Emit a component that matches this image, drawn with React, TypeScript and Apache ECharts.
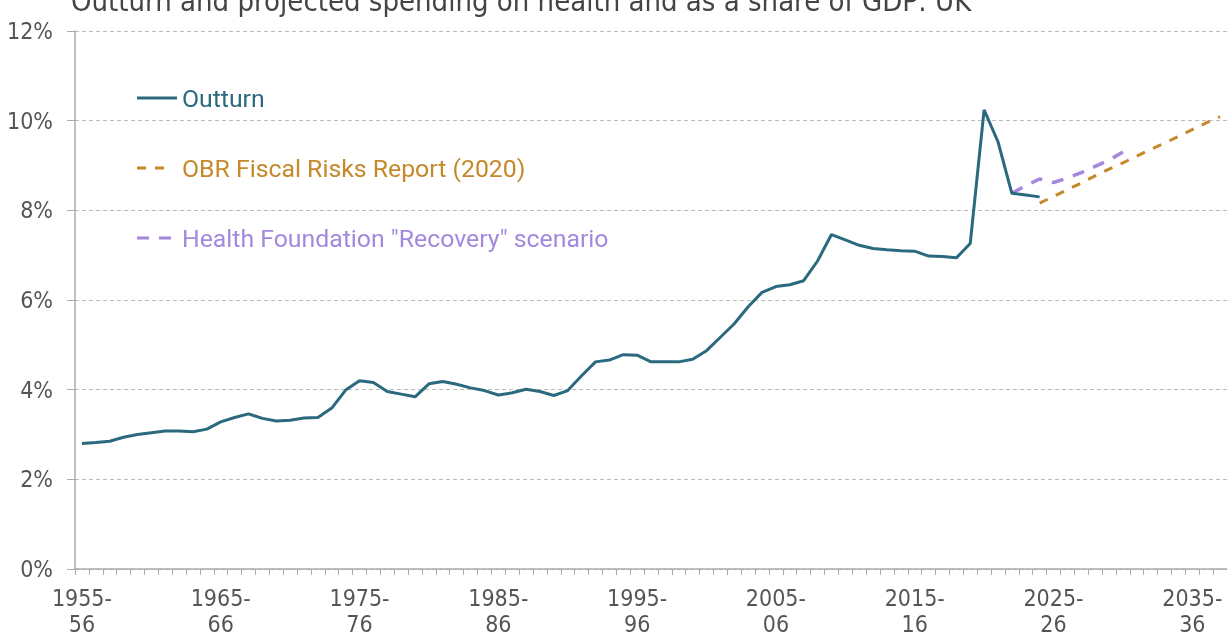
import React, { useEffect, useRef } from "react";
import * as echarts from "echarts";

const startYear = 1955;
const endYear = 2037;
const categories: string[] = [];
for (let y = startYear; y <= endYear; y++) {
  categories.push(`${y}-\n${String((y + 1) % 100).padStart(2, "0")}`);
}

const outturn = [
  2.80, 2.82, 2.85, 2.94, 3.00, 3.04, 3.08, 3.08, 3.06, 3.12,
  3.28, 3.38, 3.46, 3.36, 3.30, 3.32, 3.37, 3.38, 3.59, 3.99,
  4.20, 4.16, 3.96, 3.90, 3.84, 4.13, 4.18, 4.12, 4.04, 3.98,
  3.88, 3.93, 4.01, 3.96, 3.87, 3.98, 4.31, 4.62, 4.66, 4.78,
  4.77, 4.62, 4.62, 4.62, 4.68, 4.87, 5.17, 5.47, 5.85, 6.17,
  6.30, 6.34, 6.43, 6.87, 7.46, 7.34, 7.22, 7.15, 7.12, 7.10,
  7.09, 6.98, 6.97, 6.94, 7.26, 10.24, 9.53, 8.38, 8.34, 8.30,
];
const obrStart = 2024;
const obr = [8.16, 8.31, 8.46, 8.61, 8.77, 8.92, 9.06, 9.21, 9.36, 9.50, 9.65, 9.80, 9.95, 10.09];
const hfStart = 2022;
const hf = [8.38, 8.55, 8.70, 8.62, 8.72, 8.84, 8.98, 9.12, 9.30];

const title = "Outturn and projected spending on health and as a share of GDP: UK";
const legendNames = ["Outturn", "OBR Fiscal Risks Report (2020)", 'Health Foundation "Recovery" scenario'];

const COL_OUT = "#2b6a7e";
const COL_OBR = "#c5892a";
const COL_HF = "#a388de";
const NARROW = "'DejaVu Sans Condensed', sans-serif";
const LEG_FONT = "Roboto, 'Noto Sans', sans-serif";

function pad(start: number, vals: number[]) {
  const arr: (number | null)[] = categories.map(() => null);
  vals.forEach((v, i) => {
    arr[start - startYear + i] = v;
  });
  return arr;
}

export default function App() {
  const ref = useRef<HTMLDivElement>(null);
  useEffect(() => {
    if (!ref.current) return;
    const chart = echarts.init(ref.current, null, { renderer: "svg" });
    const legendY = [98, 168, 238];
    const legendCols = [COL_OUT, COL_OBR, COL_HF];
    const graphics: any[] = [];
    graphics.push({
      type: "line",
      shape: { x1: 137, y1: legendY[0], x2: 177, y2: legendY[0] },
      style: { stroke: COL_OUT, lineWidth: 3 },
    });
    graphics.push({
      type: "line",
      shape: { x1: 137, y1: legendY[1], x2: 164, y2: legendY[1] },
      style: { stroke: COL_OBR, lineWidth: 3, lineDash: [9, 9] },
    });
    graphics.push({
      type: "line",
      shape: { x1: 137, y1: legendY[2], x2: 172, y2: legendY[2] },
      style: { stroke: COL_HF, lineWidth: 3, lineDash: [12, 10] },
    });
    legendNames.forEach((n, i) => {
      graphics.push({
        type: "text",
        x: 182,
        y: legendY[i],
        style: {
          text: n,
          fill: legendCols[i],
          font: `24.8px ${LEG_FONT}`,
          verticalAlign: "middle",
        },
      });
    });

    chart.setOption({
      animation: false,
      title: {
        text: title,
        left: 66,
        top: -19,
        textStyle: { fontFamily: NARROW, fontSize: 29, fontWeight: "normal", color: "#444" },
      },
      grid: { left: 75, right: 0, top: 31, bottom: 68, containLabel: false },
      xAxis: {
        type: "category",
        data: categories,
        boundaryGap: true,
        axisLine: { lineStyle: { color: "#aaa", width: 1.5 } },
        axisTick: { show: true, interval: 0, length: 6, lineStyle: { color: "#aaa" } },
        axisLabel: {
          interval: 9,
          fontFamily: NARROW,
          fontSize: 23,
          lineHeight: 26,
          color: "#555",
          margin: 16,
        },
        splitLine: { show: false },
      },
      yAxis: {
        type: "value",
        min: 0,
        max: 12,
        interval: 2,
        axisLine: { show: true, lineStyle: { color: "#aaa", width: 1.5 } },
        axisTick: { show: true, length: 8, lineStyle: { color: "#aaa" } },
        axisLabel: {
          formatter: "{value}%",
          fontFamily: NARROW,
          fontSize: 23,
          color: "#555",
          margin: 22,
        },
        splitLine: { show: true, lineStyle: { color: "#bbb", type: [4, 3], width: 1 } },
      },
      graphic: graphics,
      series: [
        {
          name: legendNames[0],
          type: "line",
          data: pad(startYear, outturn),
          symbol: "none",
          lineStyle: { color: COL_OUT, width: 3 },
          z: 3,
        },
        {
          name: legendNames[1],
          type: "line",
          data: pad(obrStart, obr),
          symbol: "none",
          lineStyle: { color: COL_OBR, width: 3, type: [9, 9] },
          z: 2,
        },
        {
          name: legendNames[2],
          type: "line",
          data: pad(hfStart, hf),
          symbol: "none",
          lineStyle: { color: COL_HF, width: 3.5, type: [12, 10] },
          z: 2,
        },
      ],
    });
    return () => chart.dispose();
  }, []);
  return (
    <div
      ref={ref}
      style={{ position: "fixed", left: 0, top: 0, width: 1227, height: 637 }}
    />
  );
}
